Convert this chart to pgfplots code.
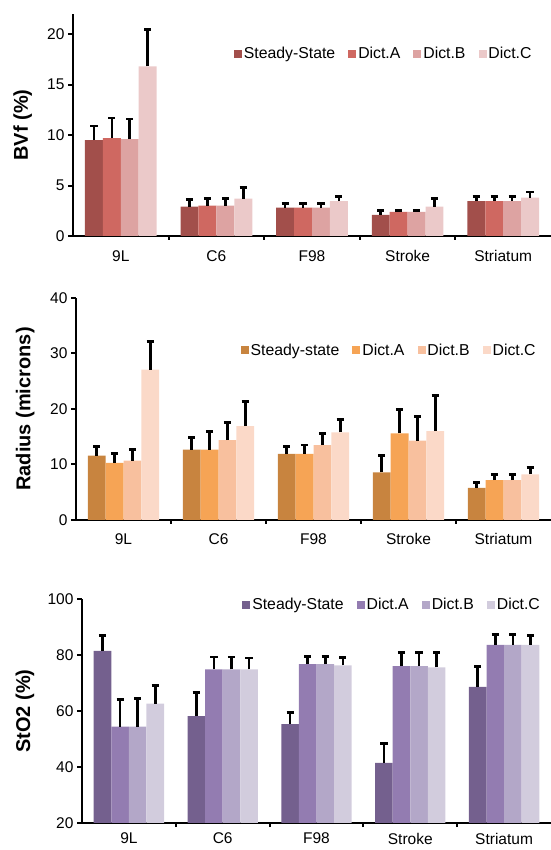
\documentclass[border=0pt]{standalone}
\usepackage{pgfplots}
\pgfplotsset{compat=1.18}
\usepackage{pgfplotstable}
\usepackage{fontspec}
\setmainfont{Liberation Sans}

\definecolor{r1}{HTML}{A24F4B}
\definecolor{r2}{HTML}{CF6861}
\definecolor{r3}{HTML}{DDA3A2}
\definecolor{r4}{HTML}{EBC9C9}
\definecolor{o1}{HTML}{C8843F}
\definecolor{o2}{HTML}{F6A455}
\definecolor{o3}{HTML}{F8C09E}
\definecolor{o4}{HTML}{FBD9C8}
\definecolor{p1}{HTML}{74608E}
\definecolor{p2}{HTML}{937CB1}
\definecolor{p3}{HTML}{B3A7C8}
\definecolor{p4}{HTML}{D2CCDD}

% BVf (%)
\pgfplotstableread{
cat ss sse a ae b be c ce
0 9.5 1.4 9.7 2.0 9.6 2.0 16.8 3.7
1 2.9 0.7 3.0 0.7 3.0 0.7 3.7 1.1
2 2.8 0.4 2.8 0.4 2.8 0.4 3.45 0.5
3 2.1 0.45 2.4 0.15 2.4 0.15 2.9 0.8
4 3.45 0.45 3.45 0.45 3.45 0.45 3.8 0.55
}\bvf
% Radius (microns)
\pgfplotstableread{
cat ss sse a ae b be c ce
0 11.6 1.7 10.3 1.7 10.7 2.0 27.1 5.0
1 12.7 2.2 12.7 3.2 14.4 3.2 16.9 4.4
2 11.9 1.4 11.9 1.6 13.5 2.1 15.8 2.3
3 8.6 3.0 15.6 4.3 14.3 4.4 16.0 6.5
4 5.8 0.9 7.2 1.0 7.2 1.0 8.2 1.2
}\radius
% StO2 (%)
\pgfplotstableread{
cat ss sse a ae b be c ce
0 81.5 5.4 54.4 9.8 54.4 10.2 62.6 6.6
1 58.2 8.4 74.9 4.4 74.9 4.4 74.9 4.0
2 55.3 4.3 76.7 2.9 76.7 2.9 76.3 2.9
3 41.5 6.8 76.0 4.8 76.0 4.8 75.6 5.2
4 68.6 7.2 83.6 3.8 83.6 3.8 83.6 3.5
}\sto

\pgfplotsset{
  panel/.style={
    scale only axis,
    xmin=-0.5, xmax=4.5,
    axis x line*=bottom, axis y line*=left,
    axis line style={line width=2.6bp, -},
    every outer x axis line/.append style={-},
    every outer y axis line/.append style={-},
    xtick={0,1,2,3,4},
    xticklabels={9L,C6,F98,Stroke,Striatum},
    major x tick style={draw=none},
    minor xtick={0.5,1.5,2.5,3.5},
    tick align=outside,
    tick style={line width=2bp, black},
    major tick length=5bp,
    minor tick length=4bp,
    /pgf/number format/assume math mode=true,
    tick label style={font=\fontsize{15.5bp}{18bp}\selectfont},
    label style={font=\fontsize{20bp}{24bp}\selectfont\bfseries},
    legend columns=4,
    legend style={draw=none, fill=none, anchor=west,
      font=\fontsize{15.8bp}{18bp}\selectfont,
      /tikz/every even column/.append style={column sep=11bp}},
    legend image code/.code={\fill[##1] (0bp,-4bp) rectangle (8bp,4bp);},
  },
  bars/.style={ybar, bar width=0.1875, bar shift=0pt, draw=none, fill=#1,
    error bars/.cd, y dir=plus, y explicit,
    error bar style={line width=2.6bp, draw=black},
    error mark=-,
    error mark options={rotate=90, line width=2.8bp, mark size=3.6bp, draw=black, fill=black}},
}

\begin{document}
\begin{tikzpicture}
\useasboundingbox (0,0) rectangle (551bp,850bp);

% Panel 1
\begin{axis}[panel, at={(73bp,614bp)}, anchor=south west,
  width=478bp, height=222bp, ymin=0, ymax=22, ytick={0,5,10,15,20},
  xticklabel style={yshift=-6bp},
  ylabel={BVf (\%)}, ylabel style={at={(axis description cs:-0.105,0.5)}, anchor=center},
  legend style={at={(axis description cs:0.33,0.82)}}]
\addplot[bars=r1] table[x expr=\thisrow{cat}-0.28125, y=ss, y error=sse]{\bvf};
\addplot[bars=r2] table[x expr=\thisrow{cat}-0.09375, y=a, y error=ae]{\bvf};
\addplot[bars=r3] table[x expr=\thisrow{cat}+0.09375, y=b, y error=be]{\bvf};
\addplot[bars=r4] table[x expr=\thisrow{cat}+0.28125, y=c, y error=ce]{\bvf};
\legend{Steady-State,Dict.A,Dict.B,Dict.C}
\end{axis}

% Panel 2
\begin{axis}[panel, at={(76bp,330bp)}, anchor=south west,
  width=475bp, height=222bp, ymin=0, ymax=40, ytick={0,10,20,30,40},
  xticklabel style={yshift=-5bp},
  ylabel={Radius (microns)}, ylabel style={at={(axis description cs:-0.107,0.5)}, anchor=center},
  legend style={at={(axis description cs:0.34,0.765)}}]
\addplot[bars=o1] table[x expr=\thisrow{cat}-0.28125, y=ss, y error=sse]{\radius};
\addplot[bars=o2] table[x expr=\thisrow{cat}-0.09375, y=a, y error=ae]{\radius};
\addplot[bars=o3] table[x expr=\thisrow{cat}+0.09375, y=b, y error=be]{\radius};
\addplot[bars=o4] table[x expr=\thisrow{cat}+0.28125, y=c, y error=ce]{\radius};
\legend{Steady-state,Dict.A,Dict.B,Dict.C}
\end{axis}

% Panel 3
\begin{axis}[panel, at={(82bp,27bp)}, anchor=south west,
  width=469bp, height=224bp, ymin=20, ymax=100, ytick={20,40,60,80,100},
  xticklabel style={yshift=-1.5bp},
  ylabel={StO2 (\%)}, ylabel style={at={(axis description cs:-0.1215,0.5)}, anchor=center},
  legend style={at={(axis description cs:0.335,0.975)}}]
\addplot[bars=p1] table[x expr=\thisrow{cat}-0.28125, y=ss, y error=sse]{\sto};
\addplot[bars=p2] table[x expr=\thisrow{cat}-0.09375, y=a, y error=ae]{\sto};
\addplot[bars=p3] table[x expr=\thisrow{cat}+0.09375, y=b, y error=be]{\sto};
\addplot[bars=p4] table[x expr=\thisrow{cat}+0.28125, y=c, y error=ce]{\sto};
\legend{Steady-State,Dict.A,Dict.B,Dict.C}
\end{axis}
\end{tikzpicture}
\end{document}
